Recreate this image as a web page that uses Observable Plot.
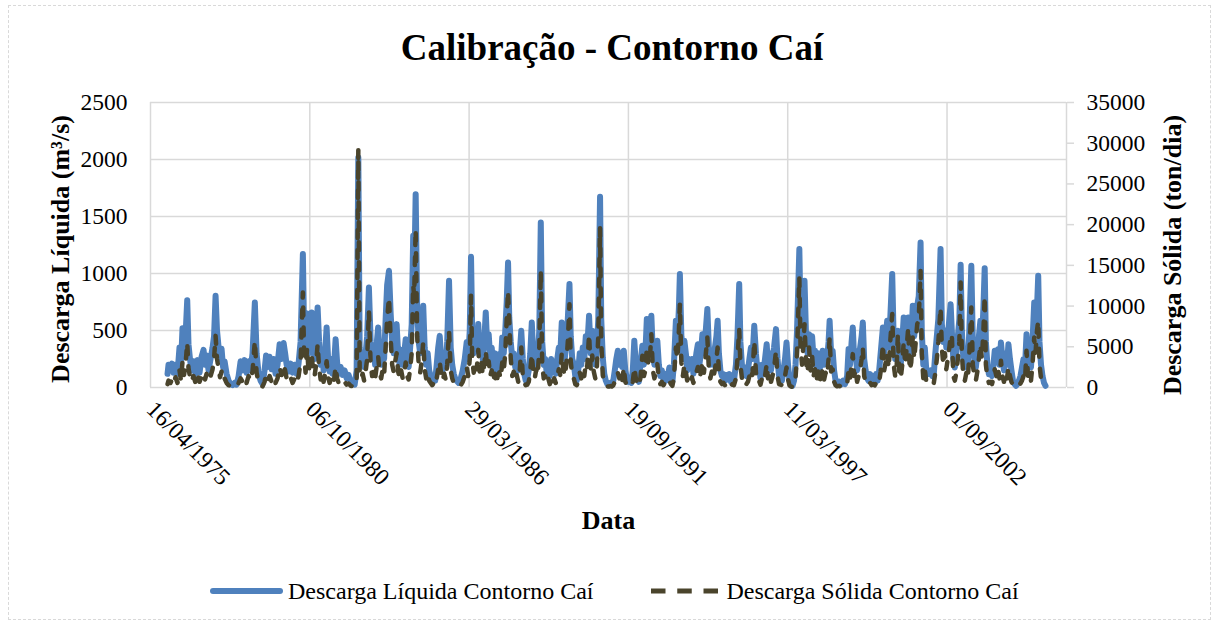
<!DOCTYPE html>
<html>
<head>
<meta charset="utf-8">
<script src="https://cdn.jsdelivr.net/npm/d3@7"></script>
<script src="https://cdn.jsdelivr.net/npm/@observablehq/plot@0.6"></script>
<style>
  html, body { margin: 0; padding: 0; background: #fff; }
  #wrap { position: relative; width: 1218px; height: 626px; font-family: "Liberation Serif", "Times New Roman", serif; color: #000; overflow: hidden; }
  #border { position: absolute; left: 8px; top: 5px; width: 1203px; height: 615px; border: 1px dashed #d9d9d9; box-sizing: border-box; }
  #title { position: absolute; left: 0; top: 29px; width: 1224px; text-align: center; font-weight: bold; font-size: 37px; line-height: 37px; white-space: nowrap; }
  #chart { position: absolute; left: 0; top: 80px; }
  #legend { position: absolute; left: 210px; top: 575px; height: 32px; display: flex; align-items: center; font-size: 24px; white-space: nowrap; }
  #legend .item { display: flex; align-items: center; }
  #legend svg { display: block; }
</style>
</head>
<body>
<div id="wrap">
  <div id="border"></div>
  <div id="title"></div>
  <div id="chart"></div>
  <div id="legend"></div>
</div>
<script>
// ---------------- DATA ----------------
const chartTitle = "Calibração - Contorno Caí";
const seriesNames = ["Descarga Líquida Contorno Caí", "Descarga Sólida Contorno Caí"];
const yLabelLeft = "Descarga Líquida (m³/s)";
const yLabelRight = "Descarga Sólida (ton/dia)";
const xLabel = "Data";

// x-axis ticks (Excel date serials) and their labels
const xTickSerials = [27500, 29500, 31500, 33500, 35500, 37500];
const xTickLabels = ["16/04/1975", "06/10/1980", "29/03/1986", "19/09/1991", "11/03/1997", "01/09/2002"];
const xDomainSerials = [27500, 39000];
const leftTicks = [0, 500, 1000, 1500, 2000, 2500];
const rightTicks = [0, 5000, 10000, 15000, 20000, 25000, 30000, 35000];

// dates as Excel serial day numbers
const datas = [
27714,27726,27751,27770,27789,27814,27839,27864,27883,27902,27921,27940,27961,27977,27996,28015,28040,28065,28090,28116,
28141,28166,28185,28204,28229,28254,28279,28298,28317,28335,28354,28373,28392,28411,28430,28455,28480,28505,28530,28555,
28580,28606,28631,28656,28681,28706,28731,28756,28781,28810,28832,28857,28882,28907,28932,28951,28970,28995,29020,29045,
29070,29095,29121,29146,29171,29190,29209,29234,29259,29284,29309,29334,29359,29384,29413,29428,29447,29466,29485,
29504,29523,29541,29560,29579,29598,29617,29636,29655,29673,
29692,29711,29730,29749,29768,29786,29805,29824,29843,29862,
29887,29912,29937,29962,29987,30013,30038,30063,30088,30109,
30126,30144,30163,30182,30201,30220,30242,30264,30283,30302,
30320,30339,30358,30377,30396,30415,30433,30452,30471,30494,
30515,30534,30553,30572,30590,30609,30628,30647,30666,30685,
30704,30722,30741,30760,30779,30798,30810,30829,30848,30867,
30886,30905,30924,30942,30961,30980,30999,31018,31037,31056,
31074,31093,31112,31131,31150,31169,31188,31206,31225,31248,
31269,31288,31307,31326,31344,31369,31395,31420,31445,31470,
31489,31508,31524,31539,31558,31577,31596,31615,31633,31652,
31671,31690,31709,31728,31746,31765,31784,31803,31822,31841,
31859,31878,31897,31916,31935,31954,31972,31989,32004,32023,
32042,32061,32079,32098,32117,32136,32155,32174,32192,32211,
32230,32249,32268,32287,32305,32324,32343,32362,32381,32400,
32418,32437,32456,32475,32494,32513,32531,32550,32569,32588,
32607,32626,32644,32663,32682,32701,32720,32739,32760,32776,
32795,32814,32833,32852,32870,32889,32908,32927,32946,32965,
32983,33006,33027,33046,33065,33084,33103,33122,33144,33159,
33178,33197,33216,33235,33254,33273,33291,33310,33329,33348,
33367,
33386,33405,33423,33442,33461,33480,33499,33518,33537,33555,
33574,33593,33612,33631,33650,33675,33694,33713,33731,33750,
33769,33788,33807,33826,33845,33863,33882,33901,33920,33939,
33958,33976,33995,34014,34033,34052,34071,34096,34115,34134,
34146,34165,34184,34203,34221,34240,34259,34278,34297,34316,
34334,34353,34372,34391,34410,34429,34448,34466,34491,34510,
34529,34548,34567,34586,34605,34620,34636,34655,34674,34693,
34712,34730,34749,34768,34787,34806,34825,34850,34869,34891,
34906,34925,34944,34963,34982,35000,35019,35038,35057,35080,
35101,35120,35139,35158,35177,35196,35215,35236,35252,35271,
35290,35309,35328,35353,35372,35391,35410,35428,35447,35466,
35485,
35504,35522,35541,35560,35579,35598,35617,35646,35661,35680,
35699,35711,35730,35749,35768,35787,35806,35825,35843,35862,
35881,35900,35919,35938,35957,35975,35994,36013,36026,36045,
36064,36082,36101,36120,36145,36170,36195,36220,36246,36264,
36283,36302,36317,36334,36353,36371,36390,36409,36428,36443,
36460,36478,36497,36516,36535,36554,36573,36592,36610,36629,
36648,36667,36695,36711,36730,36749,36768,36787,36812,36831,
36849,36868,36883,36900,36919,36938,36956,36975,36994,37013,
37032,37051,37070,37088,37107,37126,37145,37168,37183,37202,
37221,37240,37259,37277,37296,37315,37334,37353,37372,37391,
37419,37435,37453,37472,37491,37510,37529,37545,37560,37579,
37598,37617,37636,37655,37671,37686,37705,37724,37743,37762,
37780,37805,37824,37843,37862,37881,37900,37919,37938,37957,
37973,37988,38007,38026,38045,38064,38083,38099,38121,38139,
38158,38177,38196,38215,38234,38253,38271,38290,38309,38328,
38347,38366,38385,38403,38422,38441,38460,38479,38498,38517,
38536,38554,38573,38595,38611,38630,38645,38661,38680,38699,
38718,38737
];

// Descarga Líquida (m³/s)
const liquida = [
120,200,150,210,130,200,120,350,200,520,300,450,766,380,250,150,230,120,240,130,
270,330,200,280,150,250,350,450,804,500,360,250,340,180,230,120,60,30,20,40,
25,100,230,150,240,130,230,150,300,745,300,120,60,30,150,280,180,270,160,250,
120,200,380,250,390,300,200,140,210,130,200,120,210,400,1170,500,300,650,300,
450,658,350,250,450,702,400,200,320,150,
300,527,250,140,250,120,200,424,220,120,
180,110,150,80,110,50,30,25,150,2018,
350,200,300,180,300,450,877,400,250,350,
200,380,527,300,200,350,250,600,900,1024,
650,400,300,450,556,300,200,330,200,300,
424,250,180,350,550,1331,900,1696,700,400,
300,450,717,350,200,300,150,100,60,100,
60,200,350,453,250,150,300,180,400,936,
350,200,120,80,60,40,80,150,250,400,
250,500,1146,500,300,450,350,556,300,450,
250,400,658,350,468,250,350,150,300,100,
250,293,200,439,300,500,750,1097,614,400,
250,300,180,263,150,300,497,250,120,60,
80,150,300,570,300,200,350,250,500,1447,
400,200,250,120,200,100,250,150,200,120,
250,350,280,570,350,250,400,600,907,450,
250,205,100,60,150,300,200,350,250,450,
350,629,300,497,300,200,350,600,1673,600,
263,120,60,30,20,40,25,60,150,250,
322,
200,300,180,322,150,80,50,60,40,150,
410,200,80,50,200,366,200,300,600,350,
450,629,300,200,300,410,200,100,150,70,
120,60,100,176,100,50,200,585,400,700,
995,450,250,410,300,150,250,176,250,120,
200,300,380,200,300,468,300,450,688,350,
200,322,200,350,450,585,300,150,100,117,
60,110,70,117,50,100,60,200,450,907,
400,200,130,176,100,150,250,350,250,541,
300,150,176,80,200,150,250,380,200,300,
150,250,350,512,250,100,88,60,150,250,
395,
200,60,20,15,60,200,500,1214,600,400,
600,936,450,300,468,300,450,250,322,180,
300,150,250,322,200,300,250,400,585,300,
322,150,60,30,50,25,60,30,100,337,
200,400,527,250,322,150,250,350,450,570,
250,150,80,59,117,60,100,59,117,60,
150,300,527,300,450,585,350,600,995,400,
250,350,497,300,200,400,614,350,550,614,
300,400,717,450,600,717,800,1272,500,200,
350,150,120,117,150,100,120,300,450,600,
1214,556,400,500,350,450,600,731,500,250,
176,300,450,600,1076,500,250,176,300,200,
500,1068,400,250,176,300,450,585,400,700,
1047,400,200,117,150,100,200,322,250,336,
200,395,250,150,300,200,380,250,150,60,
30,15,30,60,100,176,250,176,468,250,
300,176,400,746,500,700,980,400,200,100,
40,15
];

// Descarga Sólida (ton/dia)
const solida = [
420,840,560,980,490,1260,560,2100,840,3220,1540,2800,5530,2380,1260,700,1400,560,1540,700,
1400,1820,980,1680,840,1400,2240,3500,6340,3500,2380,1260,1960,840,1120,560,280,140,110,210,
140,560,1120,700,1260,560,1400,840,1960,5740,1820,560,280,140,700,1540,840,1400,700,1260,
560,1120,2520,1540,2800,2100,1120,700,1260,560,1120,560,1400,3080,11660,4200,1820,4900,1820,
3080,4200,2100,1400,2800,5320,2380,980,1820,700,
1680,3220,1260,560,1260,560,980,2520,1120,560,
840,490,700,350,490,210,140,110,840,29150,
2100,1120,1680,840,1960,3500,9420,2800,1400,2100,
1120,2520,3780,1820,1120,2240,1540,4900,8400,11060,
6020,2800,1960,3220,4200,1960,1120,2100,1120,1820,
3080,1400,980,2240,4200,12600,11200,19450,6300,2800,
1820,3220,5600,2240,1120,1820,840,560,280,560,
280,1120,2240,3220,1540,840,1680,980,2800,6960,
2100,1120,560,350,210,140,280,700,1400,2520,
1400,3500,11260,3500,1820,3080,2240,4620,1960,3500,
1540,2800,4510,2240,3220,1400,2100,700,1680,420,
1400,1820,1120,3080,2100,4200,8400,11870,8190,3500,
1400,1960,840,1540,700,2100,4910,1400,560,280,
350,700,2100,4100,1960,1120,2240,1540,4900,14340,
2800,1120,1400,560,1120,420,1400,700,1120,560,
1400,2240,1540,4200,2240,1400,2800,5600,10230,3220,
1400,1120,420,280,700,1820,1120,2240,1400,3080,
2520,6550,2100,3920,1960,1120,2240,6300,19660,5600,
1540,560,280,140,110,170,110,280,700,1400,
1820,
1120,1820,840,2460,700,350,210,280,170,700,
2460,1120,350,210,1120,3890,1400,2100,4900,2800,
3500,6550,2100,1120,1820,2870,1120,420,700,280,
560,280,490,840,420,210,1120,4900,3500,7000,
10230,3080,1400,2800,1960,700,1260,840,1260,560,
1120,1820,2520,1120,1820,3220,1820,3500,6150,2240,
1120,1960,1120,2240,3500,4910,1960,700,420,560,
280,490,280,560,210,420,280,1120,3500,7170,
2800,1120,560,840,420,700,1400,2240,1540,5740,
1820,700,840,350,1120,700,1400,2870,1120,1820,
700,1400,2240,4510,1400,420,350,280,700,1400,
2460,
980,280,110,70,280,1120,4200,13510,4900,2800,
5600,7780,3080,1820,4910,2100,3920,1400,2240,840,
1960,700,1400,2240,980,1820,1400,3500,6150,1960,
2240,700,280,140,210,110,280,140,420,2100,
1120,2800,4100,1400,2100,700,1400,2240,3500,4910,
1400,700,350,280,560,280,420,250,560,280,
700,1960,5320,2100,3080,4200,2380,5600,9020,2800,
1400,2520,6550,1960,1120,2800,5600,2800,4900,7380,
2100,3080,6300,3500,5600,7780,8400,14320,4200,1120,
2240,700,560,560,700,420,560,1820,3500,5600,
9830,4910,2800,4200,2240,3500,4900,6150,6550,1400,
840,1820,3500,5600,12910,4200,1400,840,1820,1120,
4200,9830,2800,1400,840,1960,3500,5320,3500,7000,
11260,2800,1120,560,700,420,1120,2240,1400,2380,
1120,3280,1400,700,1820,1120,2520,1400,700,280,
140,70,140,280,490,840,1400,840,4510,1400,
1820,840,2800,6150,4200,7000,8190,2800,1120,420,
170,70
];

// ---------------- CHART ----------------
const blue = "#4f81bd";
const olive = "#4a442c";
const grid = "#d9d9d9";
const ratio = rightTicks[rightTicks.length - 1] / leftTicks[leftTicks.length - 1]; // 14
const toDate = s => new Date(Date.UTC(1899, 11, 30) + s * 864e5);

const n = Math.min(datas.length, liquida.length, solida.length);
const rows = d3.range(n).map(i => ({date: toDate(datas[i]), liq: liquida[i], sol: solida[i]}));

const xTickDates = xTickSerials.map(toDate);
const xLabelMap = new Map(xTickDates.map((d, i) => [+d, xTickLabels[i]]));
const rightPos = rightTicks.map(v => v / ratio);
const rightLabelMap = new Map(rightPos.map((p, i) => [p, String(rightTicks[i])]));

const chart = Plot.plot({
  width: 1218,
  height: 480,
  marginLeft: 150,
  marginRight: 152,
  marginTop: 22,
  marginBottom: 173,
  style: {fontFamily: "'Liberation Serif', 'Times New Roman', serif", fontSize: "23.5px", color: "#000", background: "transparent", overflow: "visible"},
  x: {type: "utc", domain: xDomainSerials.map(toDate)},
  y: {domain: [leftTicks[0], leftTicks[leftTicks.length - 1]]},
  marks: [
    Plot.gridY(leftTicks, {stroke: grid, strokeOpacity: 1, strokeWidth: 1.5}),
    Plot.gridX(xTickDates, {stroke: grid, strokeOpacity: 1, strokeWidth: 1.5}),
    Plot.ruleX([toDate(xDomainSerials[1])], {stroke: grid, strokeWidth: 1.5}),
    Plot.axisY(leftTicks, {anchor: "left", tickSize: 0, tickPadding: 23, label: null, tickFormat: d => String(d)}),
    Plot.axisY(rightPos, {anchor: "right", tickSize: 7, tickPadding: 13, stroke: grid, strokeWidth: 1.5, label: null, tickFormat: d => rightLabelMap.get(d)}),
    Plot.axisX(xTickDates, {anchor: "bottom", tickSize: 0, tickRotate: 45, tickPadding: 18, label: null, tickFormat: d => xLabelMap.get(+d)}),
    Plot.line(rows, {x: "date", y: "liq", stroke: blue, strokeWidth: 6, strokeLinejoin: "round", strokeLinecap: "round"}),
    Plot.line(rows, {x: "date", y: d => d.sol / ratio, stroke: olive, strokeWidth: 4.5, strokeLinejoin: "round", strokeLinecap: "round", strokeDasharray: "8,12"}),
    Plot.text([yLabelLeft], {frameAnchor: "left", textAnchor: "middle", rotate: -90, dx: -90, dy: 4, fontWeight: "bold", fontSize: 26}),
    Plot.text([yLabelRight], {frameAnchor: "right", textAnchor: "middle", rotate: -90, dx: 106, dy: 10, fontWeight: "bold", fontSize: 26}),
    Plot.text([xLabel], {frameAnchor: "bottom", dy: 141, fontWeight: "bold", fontSize: 26})
  ]
});
document.getElementById("chart").appendChild(chart);
document.getElementById("title").textContent = chartTitle;

// legend
const legend = document.getElementById("legend");
const swatches = [
  `<svg width="73" height="12"><line x1="3" y1="6" x2="70" y2="6" stroke="${blue}" stroke-width="6" stroke-linecap="round"/></svg>`,
  `<svg width="67" height="12"><line x1="0" y1="6" x2="67" y2="6" stroke="${olive}" stroke-width="5" stroke-dasharray="14.5,11.75"/></svg>`
];
seriesNames.forEach((name, i) => {
  const item = document.createElement("div");
  item.className = "item";
  item.style.marginRight = i === 0 ? "58px" : "0";
  item.innerHTML = swatches[i] + `<span style="margin-left:${i === 0 ? 5 : 8}px">${name}</span>`;
  legend.appendChild(item);
});
</script>
</body>
</html>
